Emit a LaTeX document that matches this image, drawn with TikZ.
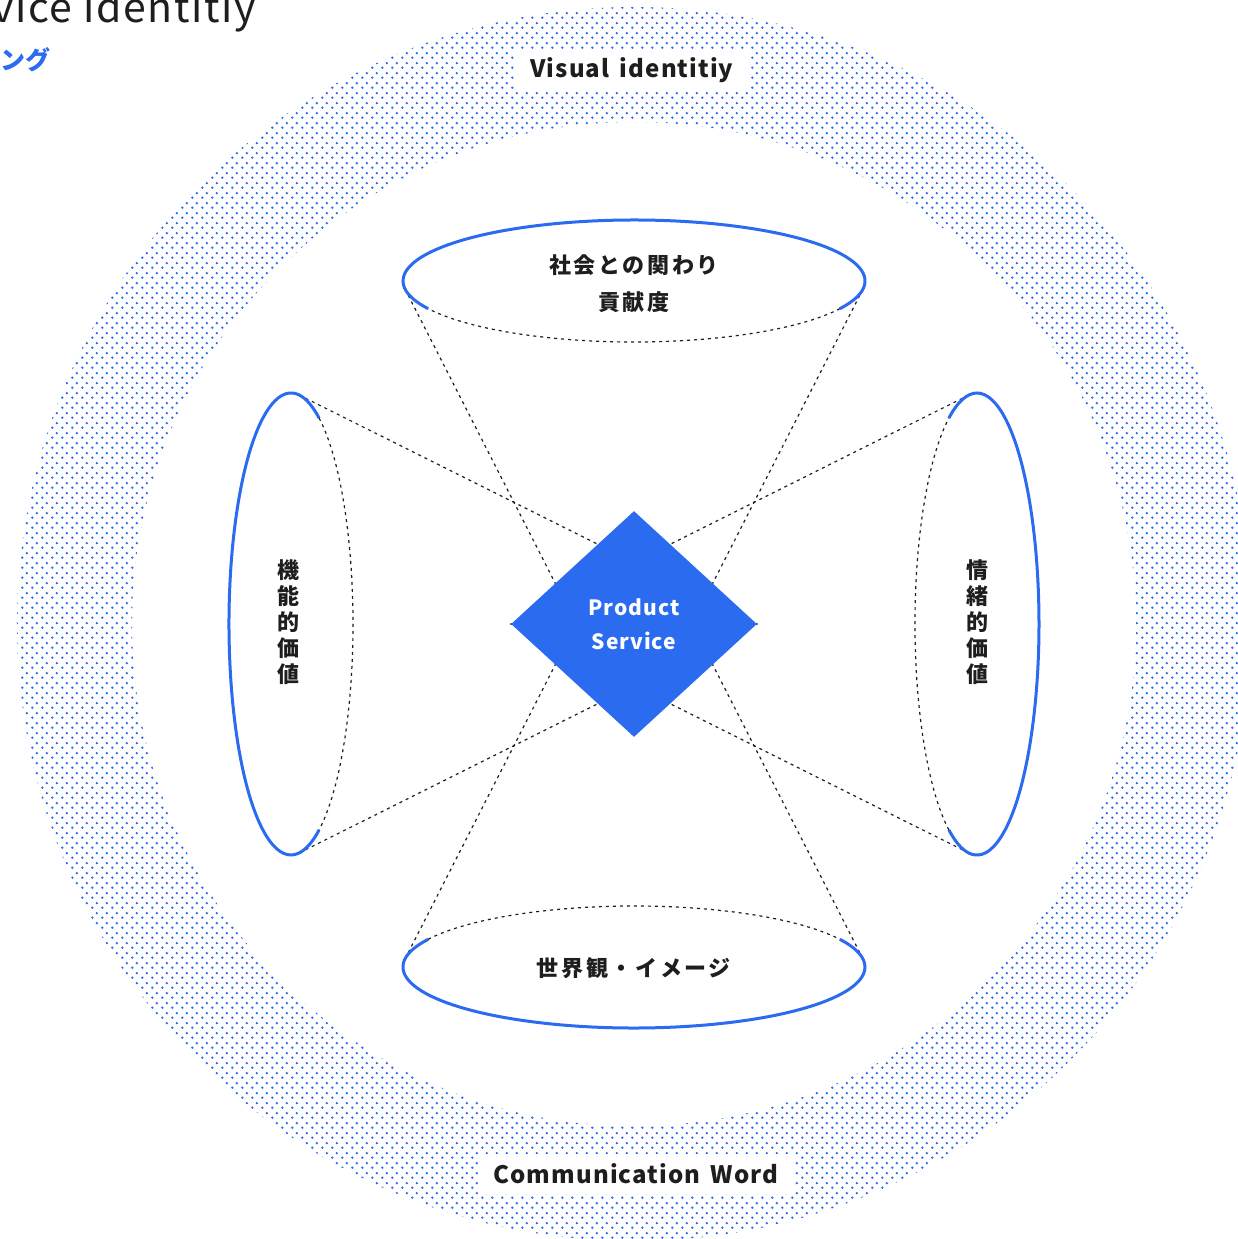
\documentclass[tikz,border=0pt]{standalone}
\usepackage{fontspec}
\usetikzlibrary{shapes.geometric,patterns.meta,backgrounds}
\setmainfont{Noto Sans CJK JP}
\newfontfamily\wordfont[LetterSpace=4.5, WordSpace=1.6]{Noto Sans CJK JP}
\newfontfamily\kanafont[LetterSpace=12]{Noto Sans CJK JP}
\newfontfamily\titlefont[LetterSpace=4]{Noto Sans CJK JP}
\definecolor{brand-blue}{HTML}{2B6BEF}
\definecolor{ink}{HTML}{1E1E1E}

% staggered halftone dots for the outer ring
\tikzdeclarepattern{
    name=ring-dots, type=uncolored,
    bounding box={(0pt,0pt) and (5pt,5pt)},
    tile size={(5pt,5pt)},
    code={
        \fill (1.25pt,1.25pt) circle (0.7pt);
        \fill (3.75pt,3.75pt) circle (0.7pt);
    }
}

\tikzset{
    ring-label/.style = {fill=white, text=ink, inner xsep=8pt, minimum height=20pt, font=\wordfont\bfseries\fontsize{12}{14}\selectfont},
    value-text/.style = {text=ink, align=center, inner sep=0pt, font=\kanafont\bfseries\fontsize{11}{18.5}\selectfont},
    stack-text/.style = {value-text, font=\kanafont\bfseries\fontsize{11}{13}\selectfont},
    value-arc/.style = {brand-blue, line width=1.5pt},
    hidden-arc/.style = {ink, line width=0.6pt, dash pattern=on 1.5pt off 2pt},
    core-box/.style = {diamond, fill=brand-blue, text=white, inner sep=0pt, minimum width=123pt, minimum height=113pt, align=center, font=\wordfont\bfseries\fontsize{10.5}{17}\selectfont},
}

\begin{document}
\begin{tikzpicture}[x=0.5pt, y=0.5pt]
\useasboundingbox (-634,-615) rectangle (604,624);

% heading, cut by the page edge
\node[anchor=base west, inner sep=0pt, text=ink, font=\titlefont\fontsize{20.5}{22}\selectfont] (heading) at (-642,602) {vice identitiy};
\node[anchor=west, inner sep=0pt, text=brand-blue, font=\bfseries\fontsize{12.5}{14}\selectfont] (subheading) at (-634,564) {ング};

% centres of the four value ellipses
\coordinate (society) at (0,343);
\coordinate (imagery) at (0,-343);
\coordinate (function) at (-343,0);
\coordinate (emotion) at (343,0);

\node[core-box] (core) at (0,0) {Product\\Service};

\begin{scope}[on background layer]
    \fill[pattern=ring-dots, pattern color=brand-blue, even odd rule] (0,0) circle (617) circle (502);
    % cone edges: tangent from the opposite corner of the diamond
    \foreach \c/\rx/\ry/\t/\p in {society/231/61/-7.7/south, society/231/61/187.7/south,
                                 imagery/231/61/7.7/north, imagery/231/61/172.3/north,
                                 function/62/231/82.3/east, function/62/231/-82.3/east,
                                 emotion/62/231/97.7/west, emotion/62/231/262.3/west}
        \draw[hidden-arc] (\c) ++({\t}:{\rx} and {\ry}) coordinate (tan) -- (core.\p);
\end{scope}

% solid far side, dashed near side
\foreach \c/\rx/\ry/\a in {society/231/61/-27, imagery/231/61/153, function/62/231/63, emotion/62/231/-117} {
    \draw[value-arc] (\c) ++({\a}:{\rx} and {\ry}) arc[start angle=\a, delta angle=234, x radius=\rx, y radius=\ry];
    \draw[hidden-arc] (\c) ++({\a}:{\rx} and {\ry}) arc[start angle=\a, delta angle=-126, x radius=\rx, y radius=\ry];
}

\node[value-text] (society-text) at (0,340) {社会との関わり\\貢献度};
\node[value-text] (imagery-text) at (0,-344) {世界観・イメージ};
\node[stack-text] (function-text) at (-345,2) {機\\能\\的\\価\\値};
\node[stack-text] (emotion-text) at (344,2) {情\\緒\\的\\価\\値};

\node[ring-label] (visual) at (-2,554) {Visual identitiy};
\node[ring-label] (word) at (2,-550) {Communication Word};
\end{tikzpicture}
\end{document}
